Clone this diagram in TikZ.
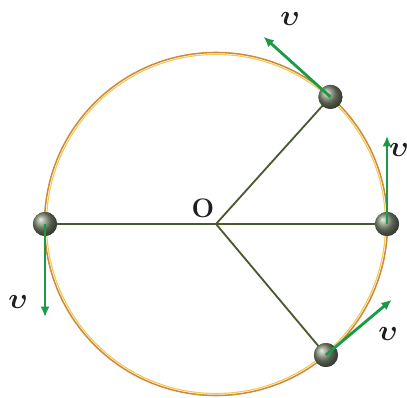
\documentclass[tikz,border=0pt]{standalone}
\usepackage{amsmath,amsbsy}
\usepackage{tikz}
\usetikzlibrary{arrows.meta, positioning, calc, shadings}
\definecolor{rimorange}{HTML}{CF8A3A}
\definecolor{rimyellow}{HTML}{EFCB5A}
\definecolor{spokeolive}{HTML}{4B5A2E}
\definecolor{velgreen}{HTML}{1B9A45}
\definecolor{beadgrey}{HTML}{7E8A72}
\definecolor{labelink}{HTML}{1E1E1E}

\begin{document}
\begin{tikzpicture}[x=0.025cm, y=0.025cm, line join=round,
    spoke/.style={spokeolive, line width=1.3pt},
    bead/.style={circle, minimum size=0.6cm, inner sep=0pt, shading=ball, ball color=beadgrey},
    velarrow/.style={-{Latex[length=2.6mm, width=2.3mm]}, velgreen, line width=2pt},
    vlabel/.style={labelink, font=\fontsize{21}{21}\selectfont}]
  \useasboundingbox (-216,-174) rectangle (191,224);
  % (1) the circular path and its centre
  \coordinate (O) at (0,0);
  \draw[rimyellow, line width=0.8pt] (O) circle (169.5);
  \draw[rimorange, line width=1.1pt] (O) circle (171.5);
  \node[labelink, font=\fontsize{19}{19}\selectfont\bfseries] (Olab) at (-13,16) {O};
  % (2) beads on the path
  \node[bead] (bL) at (180:171) {};
  \node[bead] (bR) at (0:171) {};
  \node[bead] (bT) at (48:171) {};
  \node[bead] (bB) at (-50:171) {};
  \draw[spoke] (bL.center) -- (O) -- (bR.center);
  \draw[spoke] (O) -- (bT.center);
  \draw[spoke] (O) -- (bB.center);
  \foreach \b in {bL, bR, bT, bB} \node[bead] at (\b) {};
  % (3) velocity is tangent to the path
  \coordinate (tL) at ($(bL)+(-90:93)$);
  \coordinate (tR) at ($(bR)+(90:88)$);
  \coordinate (tT) at ($(bT)+(138:90)$);
  \coordinate (tB) at ($(bB)+(40:86)$);
  \draw[velarrow] (bL.center) -- (tL);
  \draw[velarrow] (bR.center) -- (tR);
  \draw[velarrow] (bT.center) -- (tT);
  \draw[velarrow] (bB.center) -- (tB);
  \node[vlabel] (vL) at (-198,-78) {$\boldsymbol{\upsilon}$};
  \node[vlabel] (vR) at (183,74) {$\boldsymbol{\upsilon}$};
  \node[vlabel] (vT) at (74,205) {$\boldsymbol{\upsilon}$};
  \node[vlabel] (vB) at (172,-110) {$\boldsymbol{\upsilon}$};
\end{tikzpicture}
\end{document}
